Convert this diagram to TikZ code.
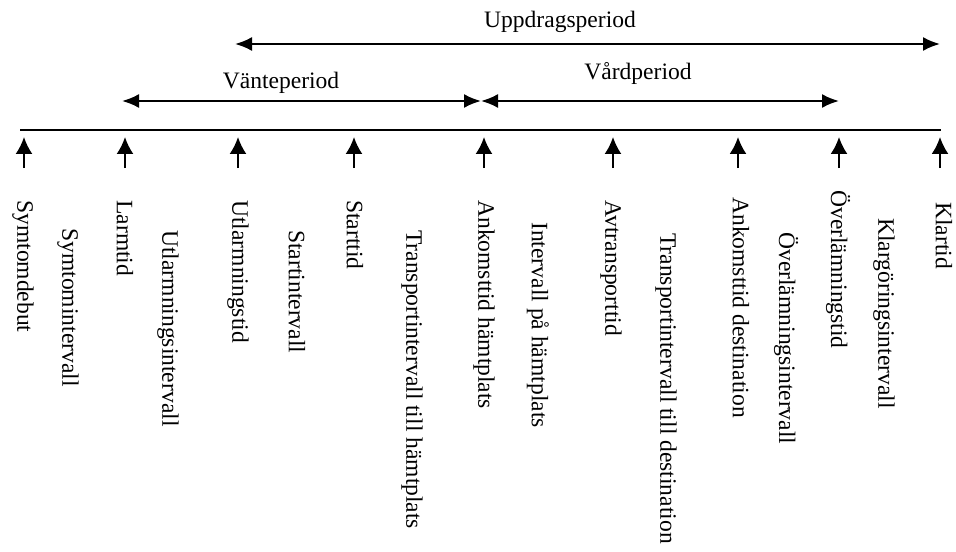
\documentclass[tikz,border=0pt]{standalone}
\usepackage{fontspec}
\setmainfont{Liberation Serif}
\usetikzlibrary{arrows.meta,positioning}
\tikzset{
  tidpil/.style={-{Latex[length=0.34cm,width=0.34cm]},line width=1.1pt},
  period/.style={{Latex[length=0.34cm,width=0.28cm]}-{Latex[length=0.34cm,width=0.28cm]},line width=1.2pt},
  etikett/.style={rotate=-90,anchor=west,inner sep=0pt,font=\fontsize{13.4}{16}\selectfont},
  rubrik/.style={inner sep=0pt,font=\fontsize{13.4}{16}\selectfont}
}

\begin{document}
\begin{tikzpicture}[>=Latex]
\useasboundingbox (0,0) rectangle (19.12,11.02);
% tidslinje
\coordinate (start) at (0.40,8.42);
\coordinate (slut) at (18.82,8.42);
\draw[line width=1.3pt] (start)--(slut);
% tidpunkter
\foreach \x [count=\i] in {0.48,2.50,4.76,7.08,9.68,12.26,14.76,16.78,18.80}{
  \coordinate (t\i) at (\x,8.28);
  \coordinate (b\i) at (\x,7.66);
  \draw[tidpil] (b\i)--(t\i);
}
% perioder
\coordinate (u1) at (4.70,10.14);
\coordinate (u2) at (18.80,10.14);
\draw[period] (u1)--(u2);
\node[rubrik] (uppdrag) at (11.20,10.58){Uppdragsperiod};
\coordinate (v1) at (2.44,9.00);
\coordinate (v2) at (9.62,9.00);
\coordinate (v3) at (16.78,9.00);
\draw[period] (v1)--(v2);
\draw[period] (v2)--(v3);
\node[rubrik] (vante) at (5.62,9.36){Vänteperiod};
\node[rubrik] (vard) at (12.76,9.56){Vårdperiod};
% tider och intervall
\node[etikett] (symtomdebut) at (0.46,7.02){Symtomdebut};
\node[etikett] (symtomint) at (1.36,6.46){Symtomintervall};
\node[etikett] (larmtid) at (2.50,7.02){Larmtid};
\node[etikett] (utlarmint) at (3.36,6.42){Utlarmningsintervall};
\node[etikett] (utlarmtid) at (4.76,7.02){Utlarmningstid};
\node[etikett] (startint) at (5.94,6.42){Startintervall};
\node[etikett] (starttid) at (7.10,7.02){Starttid};
\node[etikett] (transphamt) at (8.24,6.42){Transportintervall till hämtplats};
\node[etikett] (ankhamt) at (9.68,7.02){Ankomsttid hämtplats};
\node[etikett] (inthamt) at (10.76,6.58){Intervall på hämtplats};
\node[etikett] (avtransp) at (12.22,7.02){Avtransporttid};
\node[etikett] (transpdest) at (13.32,6.36){Transportintervall till destination};
\node[etikett] (ankdest) at (14.82,7.08){Ankomsttid destination};
\node[etikett] (overlint) at (15.72,6.38){Överlämningsintervall};
\node[etikett] (overltid) at (16.76,7.22){Överlämningstid};
\node[etikett] (klarint) at (17.68,6.66){Klargöringsintervall};
\node[etikett] (klartid) at (18.88,6.98){Klartid};
\end{tikzpicture}
\end{document}
